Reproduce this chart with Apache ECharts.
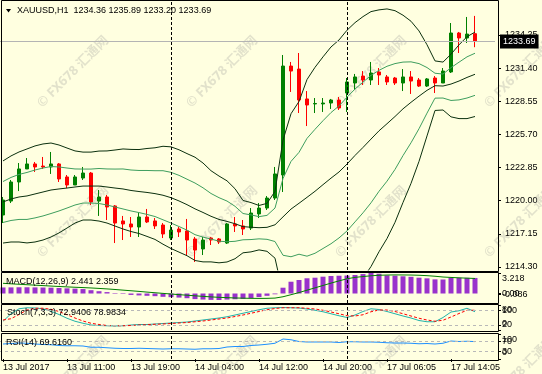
<!DOCTYPE html>
<html><head><meta charset="utf-8">
<script src="https://cdn.jsdelivr.net/npm/echarts@6/dist/echarts.min.js"></script>
<style>html,body{margin:0;padding:0;background:#FFFFE0;}#c{width:542px;height:374px;}</style>
</head><body><div id="c"></div>
<script>
const cats = ['13 Jul 03:00','13 Jul 04:00','13 Jul 05:00','13 Jul 06:00','13 Jul 07:00','13 Jul 08:00','13 Jul 09:00','13 Jul 10:00','13 Jul 11:00','13 Jul 12:00','13 Jul 13:00','13 Jul 14:00','13 Jul 15:00','13 Jul 16:00','13 Jul 17:00','13 Jul 18:00','13 Jul 19:00','13 Jul 20:00','13 Jul 21:00','13 Jul 22:00','13 Jul 23:00',
'14 Jul 01:00','14 Jul 02:00','14 Jul 03:00','14 Jul 04:00','14 Jul 05:00','14 Jul 06:00','14 Jul 07:00','14 Jul 08:00','14 Jul 09:00','14 Jul 10:00','14 Jul 11:00','14 Jul 12:00','14 Jul 13:00','14 Jul 14:00','14 Jul 15:00','14 Jul 16:00','14 Jul 17:00','14 Jul 18:00','14 Jul 19:00','14 Jul 20:00','14 Jul 21:00','14 Jul 22:00',
'17 Jul 01:05','17 Jul 02:05','17 Jul 03:05','17 Jul 04:05','17 Jul 05:05','17 Jul 06:05','17 Jul 07:05','17 Jul 08:05','17 Jul 09:05','17 Jul 10:05','17 Jul 11:05','17 Jul 12:05','17 Jul 13:05','17 Jul 14:05','17 Jul 15:05','17 Jul 16:05','17 Jul 17:05'];

const opens = [1218.77,1219.97,1221.61,1222.73,1223.16,1222.98,1222.90,1223.16,1222.04,1221.35,1221.95,1222.38,1219.97,1220.32,1219.55,1218.26,1218.00,1217.74,1218.60,1218.26,1217.91,1216.79,1217.57,1217.40,1216.71,1215.85,1216.79,1216.71,1216.36,1218.00,1217.83,1217.65,1218.86,1219.37,1220.23,1222.21,1231.58,1231.32,1228.75,1228.32,1228.32,1228.40,1228.66,1229.26,1230.12,1230.72,1230.38,1231.07,1230.64,1230.55,1230.12,1230.64,1230.38,1229.86,1230.55,1230.12,1231.07,1234.42,1233.99,1234.36];
const highs = [1220.32,1221.78,1223.24,1223.67,1223.33,1223.76,1224.19,1223.24,1222.21,1222.21,1222.90,1222.47,1220.92,1220.49,1219.63,1218.69,1218.60,1218.94,1219.29,1218.51,1218.08,1217.91,1217.74,1218.43,1216.88,1216.88,1216.88,1216.79,1218.08,1218.60,1218.34,1219.37,1219.80,1220.40,1222.90,1232.53,1231.93,1232.70,1229.43,1228.83,1228.83,1228.75,1228.92,1230.55,1230.90,1231.15,1231.93,1231.41,1230.81,1230.64,1231.32,1231.15,1230.55,1230.55,1230.72,1231.41,1235.28,1234.51,1235.80,1235.89];
const lows = [1218.08,1219.80,1220.83,1222.73,1222.47,1222.73,1222.30,1221.61,1221.09,1221.35,1221.78,1219.63,1218.69,1218.34,1216.36,1216.62,1216.88,1216.88,1218.08,1217.57,1216.79,1216.62,1216.88,1215.33,1214.73,1215.33,1216.19,1216.28,1216.28,1217.31,1217.05,1217.48,1218.51,1219.20,1220.06,1220.75,1229.35,1227.54,1226.42,1227.54,1227.63,1227.89,1227.80,1227.63,1229.52,1229.95,1229.95,1229.95,1229.95,1229.95,1229.43,1229.18,1229.78,1229.78,1229.26,1230.12,1230.98,1232.70,1233.56,1233.20];
const closes = [1220.06,1221.61,1222.73,1223.16,1222.90,1222.90,1223.16,1221.87,1221.35,1222.04,1222.38,1219.89,1220.32,1219.46,1218.08,1218.00,1217.74,1218.60,1218.17,1217.83,1217.14,1217.48,1217.31,1216.62,1215.76,1216.62,1216.62,1216.45,1218.00,1217.83,1217.57,1218.94,1219.37,1220.23,1222.30,1231.58,1231.15,1228.66,1228.23,1228.36,1228.40,1228.66,1227.97,1230.21,1230.64,1230.38,1230.98,1230.81,1230.21,1230.12,1230.64,1230.29,1229.86,1230.47,1230.12,1231.15,1234.42,1233.99,1234.33,1233.69];

const bbMid = [1219.89,1220.15,1220.32,1220.41,1220.58,1220.75,1220.92,1221.01,1221.09,1221.18,1221.26,1221.26,1221.26,1221.18,1221.09,1221.01,1220.88,1220.79,1220.71,1220.61,1220.47,1220.26,1219.98,1219.66,1219.30,1218.99,1218.66,1218.39,1218.22,1218.02,1217.77,1217.72,1217.68,1217.71,1217.93,1218.61,1219.28,1219.78,1220.29,1220.81,1221.38,1221.94,1222.47,1223.15,1223.89,1224.58,1225.30,1226.01,1226.62,1227.24,1227.90,1228.46,1228.99,1229.49,1229.89,1229.86,1230.03,1230.29,1230.60,1230.87];
const bbUp1 = [1221.65,1222.00,1222.26,1222.43,1222.64,1222.81,1222.94,1222.90,1222.81,1222.73,1222.72,1222.72,1222.77,1222.73,1222.72,1222.73,1222.64,1222.60,1222.60,1222.58,1222.58,1222.44,1222.18,1221.85,1221.52,1221.11,1220.62,1220.26,1219.97,1219.52,1218.90,1218.78,1218.63,1218.74,1219.37,1221.91,1223.38,1224.16,1225.36,1226.14,1226.88,1227.58,1228.15,1228.90,1229.60,1230.20,1230.78,1231.21,1231.56,1231.79,1231.92,1231.94,1231.79,1231.45,1230.96,1230.89,1231.44,1231.91,1232.37,1232.68];
const bbUp2 = [1223.42,1223.85,1224.19,1224.45,1224.71,1224.88,1224.96,1224.79,1224.53,1224.28,1224.18,1224.18,1224.27,1224.28,1224.36,1224.45,1224.41,1224.40,1224.49,1224.55,1224.68,1224.63,1224.38,1224.05,1223.74,1223.24,1222.58,1222.12,1221.71,1221.03,1220.02,1219.84,1219.59,1219.77,1220.80,1225.21,1227.48,1228.53,1230.42,1231.47,1232.37,1233.22,1233.82,1234.66,1235.31,1235.83,1236.26,1236.41,1236.49,1236.34,1235.95,1235.43,1234.60,1233.41,1232.02,1231.92,1232.60,1233.40,1234.10,1234.50];
const bbLo1 = [1218.13,1218.30,1218.39,1218.39,1218.52,1218.69,1218.90,1219.12,1219.37,1219.63,1219.80,1219.80,1219.76,1219.63,1219.46,1219.29,1219.12,1218.98,1218.82,1218.64,1218.36,1218.08,1217.78,1217.47,1217.08,1216.87,1216.70,1216.52,1216.47,1216.51,1216.64,1216.66,1216.72,1216.68,1216.49,1215.31,1215.18,1215.40,1215.23,1215.48,1215.89,1216.30,1216.80,1217.40,1218.18,1218.96,1219.82,1220.81,1221.68,1222.69,1223.88,1224.98,1226.19,1227.53,1228.82,1228.83,1228.62,1228.67,1228.83,1229.06];
const bbLo2 = [1216.36,1216.45,1216.45,1216.37,1216.45,1216.62,1216.88,1217.23,1217.65,1218.08,1218.34,1218.34,1218.25,1218.08,1217.82,1217.57,1217.35,1217.18,1216.93,1216.67,1216.26,1215.89,1215.58,1215.27,1214.86,1214.74,1214.74,1214.66,1214.73,1215.01,1215.52,1215.60,1215.77,1215.65,1215.06,1212.01,1211.08,1211.03,1210.16,1210.15,1210.39,1210.66,1211.12,1211.64,1212.47,1213.33,1214.34,1215.61,1216.75,1218.14,1219.85,1221.49,1223.38,1225.57,1227.76,1227.80,1227.21,1227.06,1227.06,1227.24];

const macdHist = [0.95,0.96,0.98,0.98,0.96,0.94,0.91,0.86,0.81,0.76,0.70,0.52,0.36,0.22,0.08,-0.08,-0.22,-0.30,-0.36,-0.42,-0.52,-0.58,-0.64,-0.74,-0.88,-0.95,-1.00,-1.02,-0.95,-0.90,-0.85,-0.72,-0.56,-0.36,-0.12,0.91,1.85,2.12,2.39,2.48,2.64,2.75,2.79,2.82,2.90,3.05,3.218,3.10,2.85,2.80,2.70,2.62,2.48,2.38,2.22,2.20,2.45,2.47,2.46,2.441];
const macdSignal = [1.60,1.52,1.45,1.38,1.31,1.24,1.17,1.10,1.04,0.98,0.93,0.87,0.80,0.72,0.63,0.53,0.43,0.33,0.22,0.12,0.02,-0.08,-0.18,-0.27,-0.36,-0.45,-0.53,-0.60,-0.65,-0.70,-0.73,-0.76,-0.77,-0.76,-0.72,-0.51,-0.19,0.15,0.52,0.89,1.26,1.63,1.98,2.31,2.53,2.66,2.78,2.86,2.90,2.92,2.91,2.90,2.86,2.80,2.71,2.59,2.52,2.46,2.41,2.359];

const stochK = [35,65,85,89,88,85,75,62,47,35,27,20,18,17,16,17,20,22,22,24,26,28,30,32,36,40,44,48,53,60,67,74,81,87,89,90,89,88,84,79,73,65,57,50,60,74,85,82,74,65,56,48,38,33,33,50,72,77,87,72.9406];
const stochD = [40,45,62,80,87,87,83,74,61,48,36,27,22,18,17,17,18,20,21,23,24,26,28,30,33,36,40,44,48,54,60,67,74,81,86,89,89,89,87,84,79,72,65,57,56,61,73,80,80,74,65,56,47,40,35,39,52,66,79,78.9834];
const rsi = [60,62,64,63,60,58,57,54,53,53,52,47,47,45,43,42,42,43,42,41,40,41,41,40,39,41,41,42,48,50,50,54,56,59,63,80,77,70,68,68,68,68,66,69,69,68,68,67,65,64,64,63,61,62,60,63,72,70,71,69.616];

const priceTicks = [1214.30,1217.15,1220.00,1222.85,1225.70,1228.55,1231.40,1234.25];
const macdTicks = [3.218, 0, -0.086];
const stochTicks = [100, 80, 20, 0];
const rsiTicks = [100, 70, 30, 0];
const stochLevels = [80, 20];
const rsiLevels = [70, 30];
const timeTickIdx = [0,8,16,24,32,40,48,56];
const timeTickText = ['13 Jul 2017','13 Jul 11:00','13 Jul 19:00','14 Jul 04:00','14 Jul 12:00','14 Jul 20:00','17 Jul 06:05','17 Jul 14:05'];
const sepIdx = [21, 43];

const FONT = '"Liberation Sans", Arial, sans-serif';
const xCats = cats.concat(['', ' ']);
const n = cats.length;
const last = n - 1;
const candleData = opens.map((o, i) => [o, closes[i], lows[i], highs[i]]);
const tickSet = new Set(timeTickIdx);

const grids = [
  {left: -1, width: 496, top: 1, height: 269},
  {left: -1, width: 496, top: 273, height: 30},
  {left: -1, width: 496, top: 305, height: 25},
  {left: -1, width: 496, top: 334, height: 25}
].map(g => Object.assign(g, {outerBoundsMode: 'none', containLabel: false}));

function xAxisFor(gi, show) {
  return {
    type: 'category', gridIndex: gi, data: xCats, boundaryGap: true,
    axisLine: {show: false}, splitLine: {show: false},
    axisTick: {show: show, interval: (i) => tickSet.has(i), alignWithLabel: true, length: 3, lineStyle: {color: '#000'}},
    axisLabel: {show: show, interval: (i) => tickSet.has(i), hideOverlap: false, formatter: (v, i) => timeTickText[timeTickIdx.indexOf(i)] || '',
      align: 'left', margin: 4, fontSize: 9, color: '#000', fontFamily: FONT}
  };
}
// one value axis per tick label so that overlapping labels are all drawn (as in the reference)
function yAxesFor(gi, mn, mx, ticks, fmt, margin) {
  return ticks.map((t, k) => ({
    type: 'value', gridIndex: gi, position: 'right', offset: 3, min: mn, max: mx,
    axisLine: {show: false}, splitLine: {show: false},
    axisTick: {show: true, customValues: [t], length: 3, lineStyle: {color: '#000'}},
    axisLabel: {customValues: [t], formatter: fmt, margin: margin, hideOverlap: false,
      fontSize: 9, lineHeight: 12, color: '#000', fontFamily: FONT}
  }));
}
const yMain = yAxesFor(0, 1214.042, 1237.172, priceTicks, v => v.toFixed(2), 7).slice(0, 1);
yMain[0].axisTick.customValues = priceTicks;
yMain[0].axisLabel.customValues = priceTicks;
const yMacd = yAxesFor(1, -1.49, 3.218, macdTicks, v => v === 3.218 ? '\n3.218' : (v === 0 ? '0.00' : v.toFixed(3)), 4);
const yStoch = yAxesFor(2, 0, 100, stochTicks, v => v === 100 ? '\n100' : (v === 0 ? '0\n' : String(v)), 4);
const yRsi = yAxesFor(3, 0, 100, rsiTicks, v => v === 100 ? '\n100' : (v === 0 ? '0\n' : String(v)), 4);
const Y_MACD = 1, Y_STOCH = 1 + yMacd.length, Y_RSI = Y_STOCH + yStoch.length;

const sepLine = () => ({
  silent: true, symbol: ['none', 'none'], animation: false, label: {show: false},
  lineStyle: {color: '#000', type: [3, 2], width: 1},
  data: sepIdx.map(i => ({xAxis: cats[i]}))
});
const levelLine = (levels) => ({
  silent: true, symbol: ['none', 'none'], animation: false, label: {show: false},
  lineStyle: {color: '#B8B8B8', type: [3, 3], width: 1},
  data: levels.map(v => ({yAxis: v})).concat(sepIdx.map(i => ({xAxis: cats[i], lineStyle: {color: '#000', type: [3, 2]}})))
});

const DARK = '#0B300E';
const LIGHT = '#3E9E5E';
function bbLine(data, color) {
  return {type: 'line', xAxisIndex: 0, yAxisIndex: 0, data: data, symbol: 'none', smooth: false, silent: true, z: 4,
    lineStyle: {color: color, width: 1}};
}

const wm = [];
const wmX = [73, 222, 371, 520];
const wmY = [72, 222, 372];
wmY.forEach(y => wmX.forEach(x => wm.push({
  type: 'text', x: x, y: y, rotation: Math.PI / 4, z: 1, silent: true,
  style: {text: '© FX678 汇通网', fill: 'rgba(150,150,150,0.28)', font: 'bold 13px "Noto Sans", "Noto Sans CJK SC", sans-serif', align: 'center', verticalAlign: 'middle'}
})));

const frames = [[1, 0, 497, 271], [1, 272, 497, 31], [1, 304, 497, 27], [1, 333, 497, 27]].map(r => ({
  type: 'rect', z: 10, silent: true,
  shape: {x: r[0] + 0.5, y: r[1] + 0.5, width: r[2], height: r[3]},
  style: {fill: 'none', stroke: '#000', lineWidth: 1}
}));

const mainTitle = 'XAUUSD,H1  ' + [opens[last], highs[last], lows[last], closes[last]].map(v => v.toFixed(2)).join(' ');
const macdTitle = 'MACD(12,26,9) ' + macdHist[last].toFixed(3) + ' ' + macdSignal[last].toFixed(3);
const stochTitle = 'Stoch(7,3,3) ' + stochK[last].toFixed(4) + ' ' + stochD[last].toFixed(4);
const rsiTitle = 'RSI(14) ' + rsi[last].toFixed(4);
const txt = (t, x, y) => ({type: 'text', x: x, y: y, z: 12, silent: true,
  style: {text: t, fill: '#000', font: '9px ' + FONT, verticalAlign: 'middle', align: 'left'}});

const option = {
  animation: false,
  backgroundColor: '#FFFFE0',
  grid: grids,
  xAxis: [xAxisFor(0, false), xAxisFor(1, false), xAxisFor(2, false), xAxisFor(3, true)],
  yAxis: yMain.concat(yMacd, yStoch, yRsi),
  graphic: wm.concat(frames).concat([
    {type: 'polygon', z: 12, silent: true, shape: {points: [[6, 9], [11, 9], [8.5, 12.5]]}, style: {fill: '#000'}},
    txt(mainTitle, 17, 11), txt(macdTitle, 6, 282), txt(stochTitle, 7, 313), txt(rsiTitle, 6, 343)
  ]),
  series: [
    {
      type: 'candlestick', xAxisIndex: 0, yAxisIndex: 0, data: candleData, barWidth: 4, z: 3,
      itemStyle: {color: '#008000', color0: '#FF0000', borderColor: '#008000', borderColor0: '#FF0000', borderWidth: 1},
      markLine: {
        silent: true, symbol: ['none', 'none'], animation: false,
        data: [
          {yAxis: closes[last], lineStyle: {color: '#B4B4B4', type: 'solid', width: 1},
           label: {show: true, position: 'end', distance: 5, formatter: closes[last].toFixed(2), color: '#fff', backgroundColor: '#000',
                   padding: [3, 3, 2, 3], fontSize: 9, fontFamily: FONT}},
          ...sepIdx.map(i => ({xAxis: cats[i], lineStyle: {color: '#000', type: [3, 2], width: 1}, label: {show: false}}))
        ]
      }
    },
    bbLine(bbUp2, DARK), bbLine(bbUp1, LIGHT), bbLine(bbMid, DARK), bbLine(bbLo1, LIGHT), bbLine(bbLo2, DARK),
    {type: 'bar', xAxisIndex: 1, yAxisIndex: Y_MACD, data: macdHist, barWidth: 5, itemStyle: {color: '#9932CC'}, silent: true, markLine: sepLine()},
    {type: 'line', xAxisIndex: 1, yAxisIndex: Y_MACD, data: macdSignal, symbol: 'none', silent: true, lineStyle: {color: '#008000', width: 1}},
    {type: 'line', xAxisIndex: 2, yAxisIndex: Y_STOCH, data: stochK, symbol: 'none', silent: true, lineStyle: {color: '#20B2AA', width: 1}, markLine: levelLine(stochLevels)},
    {type: 'line', xAxisIndex: 2, yAxisIndex: Y_STOCH, data: stochD, symbol: 'none', silent: true, lineStyle: {color: '#FF0000', width: 1, type: [3, 2]}},
    {type: 'line', xAxisIndex: 3, yAxisIndex: Y_RSI, data: rsi, symbol: 'none', silent: true, lineStyle: {color: '#1E90FF', width: 1}, markLine: levelLine(rsiLevels)}
  ]
};
const chart = echarts.init(document.getElementById('c'), null, {renderer: 'canvas', width: 542, height: 374});
chart.setOption(option);
</script></body></html>
